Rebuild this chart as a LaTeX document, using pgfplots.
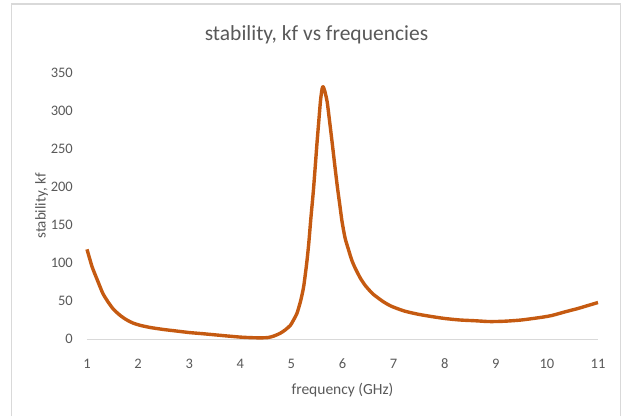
\documentclass[border=0pt]{standalone}
\usepackage{fontspec}
\setmainfont{Carlito}
\usepackage{pgfplots}
\pgfplotsset{compat=1.18}
\definecolor{txt}{HTML}{595959}
\definecolor{curve}{HTML}{C55A11}
\definecolor{frame}{HTML}{D9D9D9}
\begin{document}
\begin{tikzpicture}
\path[use as bounding box] (0,0) rectangle (622pt,416pt);
\draw[frame, line width=1.2pt] (11.7pt,0pt) -- (11.7pt,412pt) -- (620.5pt,412pt) -- (620.5pt,0pt);
\begin{axis}[
  at={(87pt,77pt)}, anchor=south west,
  scale only axis, width=511pt, height=266pt,
  xmin=1, xmax=11, ymin=0, ymax=350,
  xtick={1,2,...,11}, ytick={0,50,...,350},
  axis x line=bottom, axis y line=left,
  x axis line style={draw=frame, line width=1pt, -},
  y axis line style={draw=none},
  major tick length=0pt,
  /pgf/number format/assume math mode=true,
  tick label style={font=\fontsize{14.5}{17}\selectfont, text=txt, inner sep=0pt},
  xticklabel style={anchor=center, yshift=-25pt},
  yticklabel style={anchor=east, xshift=-14pt},
  xlabel={frequency (GHz)},
  ylabel={stability, kf},
  xlabel style={at={(axis description cs:0.5,0)}, anchor=center, yshift=-51pt, font=\fontsize{15.5}{18}\selectfont, text=txt},
  ylabel style={at={(axis description cs:-0.0890,0.5)}, anchor=center, font=\fontsize{15}{18}\selectfont, text=txt},
  clip=false,
]
\addplot[curve, line width=3.4pt, line join=round, smooth, tension=0.4] coordinates {
(1.00,118) (1.10,95) (1.20,78) (1.31,60) (1.42,48) (1.52,39) (1.65,31) (1.78,25)
(1.90,21) (2.04,18) (2.25,15) (2.50,12.5) (2.75,10.5) (3.00,8.5) (3.26,7) (3.50,5.5)
(3.74,4) (4.00,2.5) (4.20,1.8) (4.40,1.5) (4.55,2) (4.66,4) (4.78,7.5) (4.88,12)
(4.98,18) (5.05,26) (5.11,34) (5.18,50) (5.24,69) (5.30,100) (5.34,126) (5.38,158)
(5.43,195) (5.47,230) (5.50,257) (5.54,290) (5.57,314) (5.60,329) (5.62,332) (5.65,327)
(5.70,312) (5.75,285) (5.80,257) (5.85,228) (5.90,200) (5.95,175) (5.99,155) (6.05,133)
(6.12,117) (6.18,104) (6.25,93) (6.35,80) (6.45,70) (6.60,59) (6.80,49) (6.96,43)
(7.20,37) (7.45,33) (7.70,30) (8.00,27) (8.30,25) (8.60,24) (8.84,23) (9.00,23)
(9.20,23.5) (9.50,25) (9.89,28.5) (10.10,31) (10.37,36) (10.60,40) (10.80,44) (11.00,48)
};
\end{axis}
\node[text=txt, font=\fontsize{21.5}{25}\selectfont, anchor=center] at (316.5pt,381pt) {stability, kf vs frequencies};
\end{tikzpicture}
\end{document}
